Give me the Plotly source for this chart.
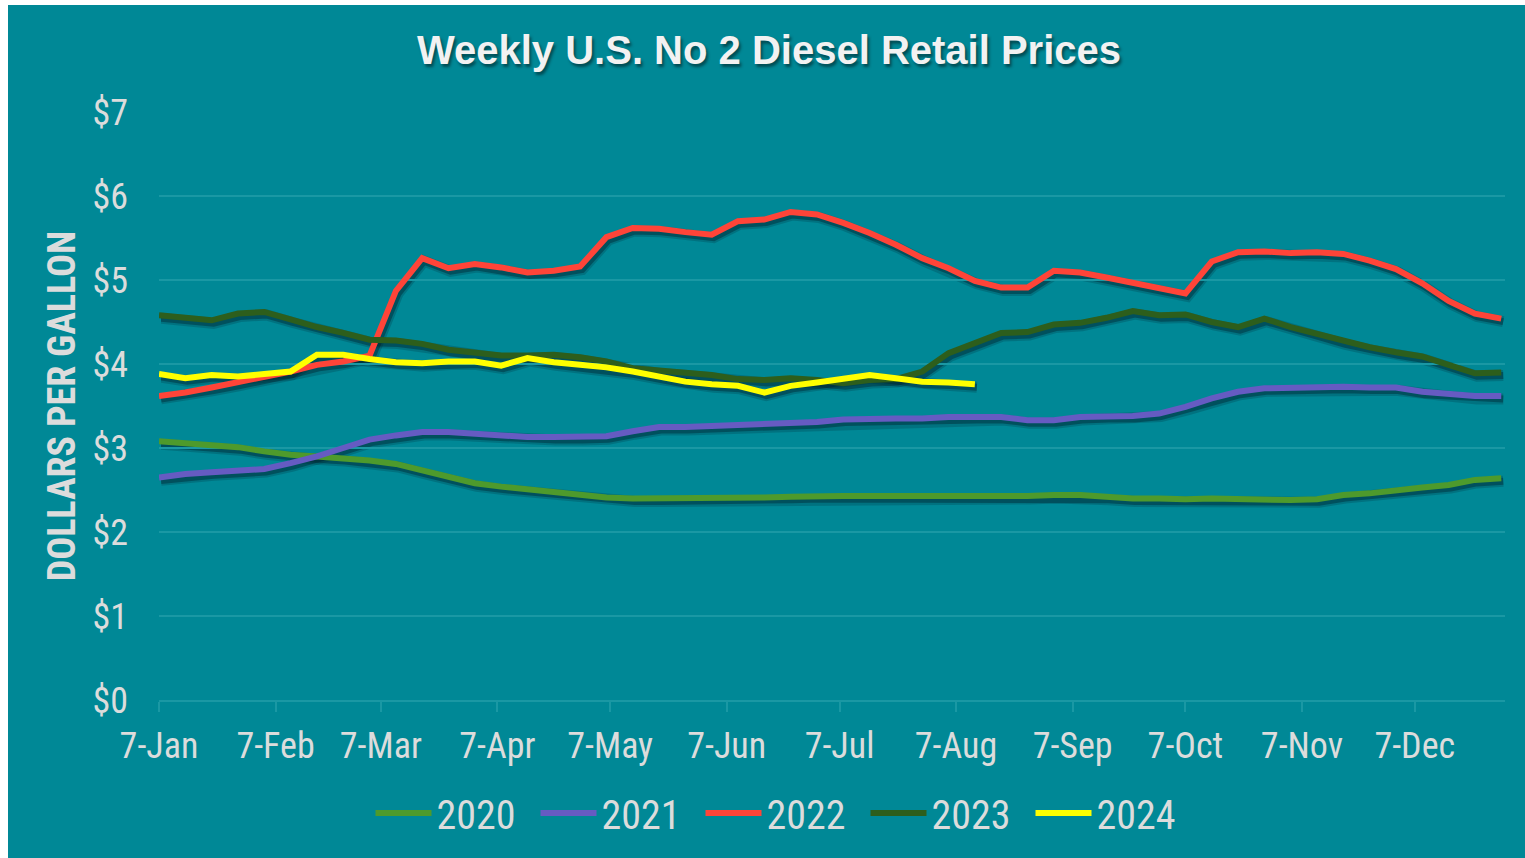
import pandas as pd
import plotly.graph_objects as go

# ---------------- data ----------------
weeks = pd.date_range("2023-01-07", periods=52, freq="7D")

years = ["2020", "2021", "2022", "2023", "2024"]

y2020 = [3.08, 3.06, 3.04, 3.01, 2.96, 2.92, 2.90, 2.88, 2.85, 2.81, 2.73, 2.65, 2.58, 2.54, 2.51, 2.48, 2.44,
         2.41, 2.40, 2.40, 2.40, 2.40, 2.40, 2.41, 2.42, 2.43, 2.43, 2.43, 2.43, 2.42, 2.42, 2.43, 2.43, 2.43,
         2.44, 2.44, 2.42, 2.40, 2.40, 2.39, 2.40, 2.39, 2.39, 2.38, 2.39, 2.44, 2.46, 2.50, 2.53, 2.56, 2.62, 2.64]
y2021 = [2.65, 2.69, 2.71, 2.73, 2.75, 2.82, 2.90, 3.00, 3.10, 3.15, 3.19, 3.19, 3.17, 3.15, 3.13, 3.13, 3.13,
         3.14, 3.20, 3.25, 3.25, 3.26, 3.28, 3.29, 3.30, 3.31, 3.34, 3.35, 3.35, 3.35, 3.37, 3.37, 3.37, 3.33,
         3.33, 3.37, 3.38, 3.38, 3.41, 3.49, 3.59, 3.67, 3.71, 3.72, 3.73, 3.73, 3.72, 3.72, 3.67, 3.65, 3.62, 3.62]
y2022 = [3.62, 3.66, 3.72, 3.78, 3.84, 3.91, 3.99, 4.03, 4.10, 4.87, 5.26, 5.14, 5.19, 5.15, 5.09, 5.11, 5.16,
         5.51, 5.62, 5.61, 5.57, 5.54, 5.70, 5.72, 5.81, 5.78, 5.68, 5.56, 5.42, 5.26, 5.14, 4.99, 4.91, 4.91,
         5.11, 5.09, 5.03, 4.97, 4.90, 4.84, 5.22, 5.33, 5.34, 5.32, 5.33, 5.31, 5.23, 5.13, 4.96, 4.75, 4.60, 4.54]
y2023 = [4.58, 4.55, 4.52, 4.60, 4.62, 4.53, 4.44, 4.37, 4.29, 4.28, 4.24, 4.17, 4.13, 4.10, 4.10, 4.11, 4.08,
         4.03, 3.95, 3.92, 3.90, 3.87, 3.82, 3.81, 3.83, 3.81, 3.77, 3.81, 3.82, 3.91, 4.13, 4.25, 4.37, 4.38,
         4.47, 4.49, 4.55, 4.63, 4.58, 4.59, 4.50, 4.44, 4.54, 4.44, 4.36, 4.27, 4.20, 4.14, 4.09, 3.99, 3.89, 3.90]
y2024 = [3.88, 3.83, 3.87, 3.85, 3.88, 3.91, 4.11, 4.11, 4.06, 4.02, 4.01, 4.03, 4.03, 3.98, 4.07, 4.02, 3.99,
         3.96, 3.91, 3.85, 3.79, 3.76, 3.74, 3.66, 3.74, 3.78, 3.82, 3.87, 3.83, 3.79, 3.78, 3.76]

series = [y2020, y2021, y2022, y2023, y2024]
colors = ["#4e9a2c", "#665bc2", "#ff4438", "#2d5e1c", "#ffff00"]

month_ticks = ["2023-01-07", "2023-02-07", "2023-03-07", "2023-04-07", "2023-05-07", "2023-06-07",
               "2023-07-07", "2023-08-07", "2023-09-07", "2023-10-07", "2023-11-07", "2023-12-07"]
month_labels = ["7-Jan", "7-Feb", "7-Mar", "7-Apr", "7-May", "7-Jun",
                "7-Jul", "7-Aug", "7-Sep", "7-Oct", "7-Nov", "7-Dec"]

y_ticks = [0, 1, 2, 3, 4, 5, 6, 7]
y_labels = ["$0", "$1", "$2", "$3", "$4", "$5", "$6", "$7"]

# ---------------- style ----------------
BG = "#008896"
GRID = "#1a98a4"
TXT = "#dcdcdc"
NARROW = "Liberation Sans Narrow, Arial Narrow, Roboto Condensed, sans-serif"
WIDE = "Liberation Sans, Arial, sans-serif"

# figure sits at (8, 5) in the page
W, H = 1517, 853
PLOT_W, PLOT_H = 1346, 588
ML, MT = 151, 107
PW, PH = PLOT_W + 4, PLOT_H + 4
MR = W - ML - PW
MB = H - MT - PH
DX, DY = 2, 3  # shadow offset in px

x_range = ["2023-01-07", "2023-12-31"]

fig = go.Figure()

# shadows (drawn on an offset copy of the axes)
for ys in series:
    fig.add_trace(go.Scatter(x=weeks[:len(ys)], y=ys, mode="lines", xaxis="x", yaxis="y",
                             line=dict(color="rgba(0,30,40,0.20)", width=11), showlegend=False,
                             hoverinfo="skip"))
    fig.add_trace(go.Scatter(x=weeks[:len(ys)], y=ys, mode="lines", xaxis="x", yaxis="y",
                             line=dict(color="rgba(0,30,40,0.40)", width=7), showlegend=False,
                             hoverinfo="skip"))

# real lines
for name, ys, c in zip(years, series, colors):
    fig.add_trace(go.Scatter(x=weeks[:len(ys)], y=ys, mode="lines", name=name, xaxis="x2", yaxis="y2",
                             line=dict(color=c, width=6)))

fig.update_layout(
    width=W, height=H,
    margin=dict(l=ML, r=MR, t=MT, b=MB, pad=0, autoexpand=False),
    paper_bgcolor=BG, plot_bgcolor="rgba(0,0,0,0)",
    title=dict(text="Weekly U.S. No 2 Diesel Retail Prices", x=761 / W, xref="container", xanchor="center",
               y=1 - 45 / H, yref="container", yanchor="middle",
               font=dict(family=WIDE, size=40, color="#f2f2f2", weight="bold",
                         shadow="2px 3px 3px rgba(0,0,0,0.45)")),
    xaxis=dict(type="date", range=x_range, domain=[DX / PW, (PLOT_W + DX) / PW],
               visible=False, fixedrange=True),
    yaxis=dict(range=[0, 7], domain=[(PH - PLOT_H - DY) / PH, (PH - DY) / PH], visible=False,
               fixedrange=True),
    xaxis2=dict(type="date", range=x_range, domain=[0, PLOT_W / PW], anchor="y2",
                tickvals=month_ticks, ticktext=month_labels, showgrid=False,
                showline=True, linecolor=GRID, linewidth=1.5,
                ticks="outside", ticklen=10, tickcolor=GRID, tickwidth=1.5,
                tickfont=dict(family=NARROW, size=36, color=TXT), ticklabelstandoff=3),
    yaxis2=dict(range=[0, 7], domain=[(PH - PLOT_H) / PH, 1], anchor="x2",
                tickvals=y_ticks, ticktext=y_labels, showgrid=True, gridcolor=GRID, gridwidth=1.5,
                zeroline=False, showline=False, ticks="",
                tickfont=dict(family=NARROW, size=36, color=TXT), ticklabelstandoff=30,
                title=dict(text="DOLLARS PER GALLON", standoff=5,
                           font=dict(family=NARROW, size=38, color=TXT, weight="bold"))),
    legend=dict(orientation="h", xref="container", yref="container", x=775 / W, xanchor="center",
                y=1 - 808 / H, yanchor="middle", font=dict(family=NARROW, size=40, color=TXT),
                bgcolor="rgba(0,0,0,0)", itemwidth=56, entrywidth=94, entrywidthmode="pixels"),
    showlegend=True,
)

fig.write_html("out.html", post_script="document.body.style.margin='5px 0 0 8px';")
